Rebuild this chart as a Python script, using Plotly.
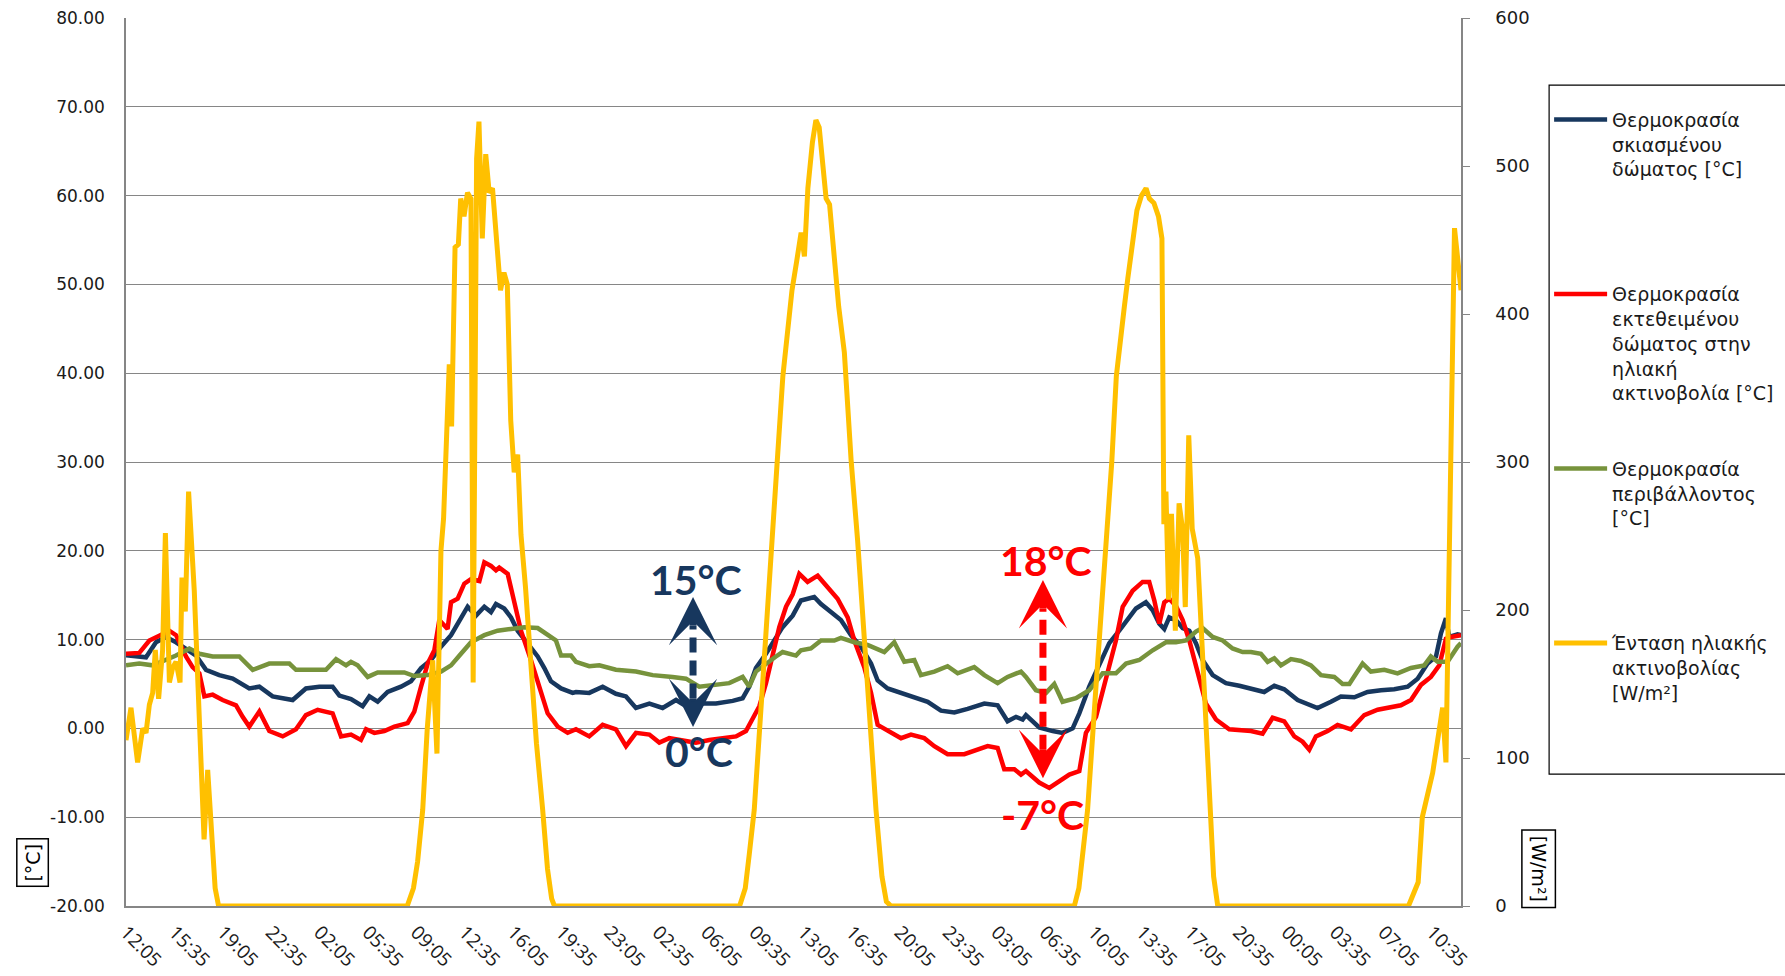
import plotly.graph_objects as go

# ---------------- data (hours since 12:05 of day 1) ----------------
tick_labels = ["12:05", "15:35", "19:05", "22:35", "02:05", "05:35", "09:05", "12:35",
               "16:05", "19:35", "23:05", "02:35", "06:05", "09:35", "13:05", "16:35",
               "20:05", "23:35", "03:05", "06:35", "10:05", "13:35", "17:05", "20:35",
               "00:05", "03:35", "07:05", "10:35"]
tick_hours = [0, 3.5, 7, 10.5, 14, 17.5, 21, 24.5, 28, 31.5, 35, 38.5, 42, 45.5, 49, 52.5,
              56, 59.5, 63, 66.5, 70, 73.5, 77, 80.5, 84, 87.5, 91, 94.5]
temp_ticks = [-20, -10, 0, 10, 20, 30, 40, 50, 60, 70, 80]
temp_tick_labels = ["-20.00", "-10.00", "0.00", "10.00", "20.00", "30.00", "40.00",
                    "50.00", "60.00", "70.00", "80.00"]
solar_ticks = [0, 100, 200, 300, 400, 500, 600]

shaded_h = [0, 0.96, 1.45, 2.17, 2.89, 3.62, 4.34, 5.07, 5.79, 6.75, 7.72, 8.92, 9.65, 10.61,
            11.34, 12.06, 13.02, 13.99, 14.95, 15.44, 16.28, 17.12, 17.61, 18.21, 18.93, 19.90,
            20.62, 21.35, 22.07, 22.79, 23.52, 24.00, 24.72, 25.32, 25.93, 26.41, 26.77, 27.37,
            27.86, 28.34, 29.06, 29.79, 30.27, 30.75, 31.48, 32.32, 32.56, 33.52, 34.49, 35.45,
            36.18, 36.90, 37.87, 38.83, 39.80, 40.52, 41.48, 42.69, 43.90, 44.62, 45.10, 45.58,
            46.31, 47.03, 47.51, 48.24, 48.84, 49.80, 50.29, 51.01, 51.73, 52.46, 53.18, 53.91,
            54.39, 55.11, 56.08, 57.04, 58.01, 58.97, 59.94, 60.90, 62.11, 63.07, 63.79, 64.40,
            64.88, 65.12, 66.08, 67.05, 67.77, 68.50, 68.98, 69.70, 70.43, 71.15, 71.87, 72.36,
            73.08, 73.80, 74.29, 74.77, 75.13, 75.49, 75.97, 76.46, 76.94, 77.42, 77.90, 78.63,
            79.59, 80.56, 81.40, 82.36, 83.09, 83.81, 84.78, 85.50, 86.22, 87.19, 87.91, 88.88,
            89.84, 90.81, 91.77, 92.74, 93.46, 94.18, 94.79, 95.15, 95.51, 95.75, 96.35, 96.60]
shaded_t = [8.25, 8.1, 8.0, 9.7, 10.3, 9.7, 9.0, 8.2, 6.6, 6.0, 5.6, 4.5, 4.7, 3.6,
            3.4, 3.2, 4.5, 4.7, 4.7, 3.7, 3.3, 2.5, 3.6, 3.0, 4.1, 4.7,
            5.3, 6.8, 7.7, 9.2, 10.5, 11.8, 13.7, 12.7, 13.7, 13.1, 14.0, 13.5,
            12.5, 11.0, 9.6, 8.1, 6.8, 5.3, 4.5, 4.0, 4.1, 4.0, 4.7, 3.9,
            3.6, 2.3, 2.8, 2.3, 3.2, 2.5, 2.8, 2.8, 3.1, 3.4, 4.7, 6.8,
            8.4, 10.3, 11.4, 12.7, 14.4, 14.8, 14.0, 13.1, 12.2, 10.5, 9.2, 7.3,
            5.4, 4.5, 4.0, 3.4, 3.0, 2.0, 1.8, 2.2, 2.8, 2.6, 0.8, 1.3,
            1.0, 1.5, 0.1, -0.3, -0.5, 0.0, 1.7, 4.7, 7.3, 9.6, 11.0, 12.0,
            13.5, 14.2, 13.3, 11.8, 11.2, 12.5, 12.2, 11.3, 11.0, 9.6, 7.7, 6.0,
            5.1, 4.8, 4.5, 4.1, 4.8, 4.4, 3.2, 2.8, 2.3, 3.0, 3.6, 3.5,
            4.1, 4.3, 4.4, 4.7, 5.6, 7.3, 8.1, 10.7, 12.4, 10.3, 10.6, 10.5]

exposed_h = [0, 0.96, 1.69, 2.41, 3.14, 3.62, 4.34, 4.82, 5.31, 5.67, 6.27, 6.99, 7.96, 8.44,
             8.92, 9.65, 10.37, 11.34, 12.30, 13.02, 13.87, 14.95, 15.56, 16.28, 17.00, 17.37,
             17.97, 18.69, 19.42, 20.38, 20.86, 21.35, 21.83, 22.31, 22.67, 23.27, 23.52, 24.00,
             24.48, 24.96, 25.57, 25.93, 26.41, 26.77, 27.01, 27.62, 28.10, 28.58, 29.30, 29.91,
             30.51, 31.24, 31.96, 32.56, 33.52, 34.49, 35.45, 36.18, 36.90, 37.87, 38.59, 39.31,
             40.28, 41.24, 42.21, 43.17, 44.14, 44.86, 45.34, 45.83, 46.31, 46.79, 47.27, 47.76,
             48.24, 48.72, 49.32, 50.05, 50.77, 51.49, 52.22, 52.70, 53.42, 53.91, 54.39, 55.35,
             56.08, 56.80, 57.76, 58.49, 59.45, 60.66, 61.62, 62.35, 63.07, 63.55, 64.28, 64.76,
             65.12, 66.08, 66.81, 67.53, 68.26, 68.98, 69.46, 70.19, 70.91, 71.63, 72.12, 72.84,
             73.56, 74.04, 74.41, 74.77, 75.13, 75.49, 75.97, 76.46, 76.94, 77.42, 78.14, 78.87,
             79.83, 81.40, 82.24, 82.97, 83.81, 84.54, 85.14, 85.62, 86.10, 86.95, 87.67, 88.64,
             89.60, 90.57, 91.29, 92.25, 92.98, 93.70, 94.42, 95.03, 95.51, 95.88, 96.60]
exposed_t = [8.4, 8.5, 9.9, 10.5, 11.0, 10.5, 8.1, 6.9, 6.2, 3.6, 3.8, 3.2, 2.6, 1.3,
             0.2, 1.9, -0.3, -0.9, -0.1, 1.5, 2.1, 1.7, -0.9, -0.7, -1.3, -0.1,
             -0.5, -0.3, 0.2, 0.6, 1.9, 4.7, 7.3, 8.8, 12.2, 11.2, 14.2, 14.6,
             16.3, 16.8, 16.6, 18.7, 18.3, 17.8, 18.1, 17.4, 14.4, 11.0, 7.7, 4.7,
             1.7, 0.2, -0.5, -0.1, -0.9, 0.4, -0.1, -2.0, -0.5, -0.7, -1.6, -1.1,
             -1.3, -1.6, -1.3, -1.1, -0.9, -0.3, 1.0, 2.5, 5.1, 8.4, 11.4, 13.7,
             15.1, 17.4, 16.5, 17.2, 15.9, 14.6, 12.5, 9.9, 6.9, 4.0, 0.4, -0.5,
             -1.1, -0.7, -1.1, -2.0, -2.9, -2.9, -2.4, -2.0, -2.2, -4.6, -4.6, -5.2,
             -4.8, -6.1, -6.7, -5.9, -5.2, -4.8, -0.5, 1.3, 5.4, 9.9, 13.7, 15.5,
             16.5, 16.5, 14.4, 11.8, 14.2, 14.6, 13.8, 12.2, 9.9, 6.9, 2.8, 1.0,
             -0.1, -0.3, -0.6, 1.2, 0.8, -0.9, -1.5, -2.4, -0.9, -0.3, 0.4, -0.1,
             1.5, 2.1, 2.3, 2.6, 3.2, 4.9, 5.8, 7.1, 10.1, 10.3, 10.5]

ambient_h = [0, 0.96, 1.93, 2.89, 3.62, 4.58, 5.31, 6.27, 7.24, 8.20, 9.17, 10.37, 11.82, 12.30,
             14.47, 15.20, 15.92, 16.28, 16.76, 17.49, 18.21, 20.14, 20.86, 21.83, 22.79, 23.52,
             24.24, 24.96, 25.93, 26.89, 27.86, 28.82, 29.79, 30.51, 31.11, 31.48, 32.20, 32.56,
             33.52, 34.25, 35.45, 36.90, 38.11, 39.55, 40.52, 41.48, 42.45, 43.65, 44.62, 45.10,
             45.58, 46.31, 47.03, 47.51, 48.48, 48.84, 49.56, 50.29, 51.25, 51.73, 52.70, 53.66,
             54.87, 55.59, 56.32, 57.04, 57.52, 58.49, 59.45, 60.18, 61.38, 62.11, 63.07, 63.79,
             64.76, 65.12, 65.84, 66.57, 67.17, 67.77, 68.74, 69.70, 70.67, 71.63, 72.36, 73.32,
             74.29, 75.25, 75.97, 76.70, 77.42, 77.90, 78.63, 79.35, 80.07, 80.80, 81.40, 82.12,
             82.61, 83.09, 83.57, 84.30, 85.02, 85.74, 86.47, 87.43, 88.03, 88.52, 89.48, 90.08,
             91.05, 92.01, 92.98, 93.94, 94.42, 94.91, 95.63, 96.35, 96.60]
ambient_t = [7.1, 7.3, 7.1, 7.7, 8.2, 9.0, 8.4, 8.1, 8.1, 8.1, 6.6, 7.3, 7.3, 6.6,
             6.6, 7.8, 7.1, 7.5, 7.1, 5.8, 6.3, 6.3, 5.9, 6.0, 6.4, 7.1,
             8.4, 9.7, 10.5, 11.0, 11.2, 11.4, 11.3, 10.5, 9.9, 8.2, 8.2, 7.5,
             7.0, 7.1, 6.6, 6.4, 6.0, 5.8, 5.6, 4.7, 4.9, 5.1, 5.8, 4.7,
             6.4, 7.3, 8.1, 8.6, 8.2, 8.8, 9.0, 9.9, 9.9, 10.2, 9.7, 9.4,
             8.6, 9.7, 7.5, 7.7, 6.0, 6.4, 7.0, 6.2, 6.9, 6.0, 5.1, 5.8,
             6.4, 5.8, 4.3, 4.0, 5.0, 3.0, 3.4, 4.3, 6.2, 6.2, 7.3, 7.7,
             8.8, 9.7, 9.7, 9.9, 10.9, 11.3, 10.3, 9.9, 9.0, 8.6, 8.6, 8.4,
             7.5, 7.9, 7.1, 7.8, 7.6, 7.1, 6.0, 5.8, 5.0, 5.0, 7.3, 6.4,
             6.6, 6.2, 6.8, 7.1, 8.1, 7.5, 7.5, 9.2, 9.6]

solar_h = [0, 0.36, 0.84, 1.21, 1.45, 1.69, 1.93, 2.12, 2.36, 2.65, 2.85, 3.14, 3.38, 3.62,
           3.91, 4.05, 4.29, 4.53, 4.94, 5.19, 5.43, 5.65, 5.91, 6.20, 6.45, 6.70,
           20.35, 20.80, 21.10, 21.47, 21.80, 22.19, 22.50, 22.79, 22.98, 23.39, 23.56, 23.81,
           24.05, 24.22, 24.46, 24.71, 24.96, 25.12, 25.37, 25.54, 25.78, 26.03, 26.28, 26.52,
           26.77, 27.10, 27.35, 27.59, 27.84, 28.09, 28.34, 28.58, 28.91, 29.30, 29.70, 30.15,
           30.50, 30.80, 31.00,
           44.40, 44.81, 45.10, 45.46, 46.10, 46.79, 47.12, 47.53, 47.86, 48.19, 48.52, 48.85,
           49.09, 49.34, 49.67, 49.92, 50.16, 50.41, 50.66, 50.91, 51.24, 51.57, 51.98, 52.22,
           52.47, 52.94, 53.60, 54.27, 54.70, 55.02, 55.35,
           68.62, 68.95, 69.25, 69.58, 70.20, 70.91, 71.33, 71.66, 71.99, 72.24, 72.49, 72.82,
           73.15, 73.48, 73.81, 74.05, 74.38, 74.71, 74.96, 75.10, 75.25, 75.44, 75.65, 75.93,
           76.20, 76.45, 76.65, 76.90, 77.15, 77.55, 78.39, 78.70, 79.00,
           92.80, 93.50, 93.80, 94.55, 95.03, 95.27, 95.51, 96.13, 96.60]
solar_w = [112, 134, 97, 120, 117, 136, 144, 173, 140, 173, 252, 151, 161, 165,
           151, 222, 199, 280, 213, 151, 90, 45, 92, 50, 12, 0,
           0, 12, 30, 65, 120, 166, 103, 240, 262, 366, 324, 445,
           447, 478, 466, 482, 478, 151, 505, 530, 451, 508, 482, 485,
           451, 416, 428, 420, 328, 293, 305, 251, 215, 160, 110, 65,
           25, 5, 0,
           0, 12, 35, 65, 155, 247, 300, 358, 389, 416, 435, 455,
           439, 485, 516, 531, 526, 497, 478, 474, 435, 405, 374, 335,
           301, 247, 150, 65, 20, 3, 0,
           0, 12, 35, 65, 150, 247, 300, 358, 389, 405, 424, 447,
           470, 480, 485, 478, 475, 466, 451, 258, 280, 207, 265, 186,
           272, 255, 202, 318, 255, 235, 65, 20, 0,
           0, 16, 60, 90, 121, 134, 97, 458, 416]

PAD = "<br>&nbsp;<br>&nbsp;"
names = ["Θερμοκρασία<br>σκιασμένου<br>δώματος [°C]" + PAD,
         "Θερμοκρασία<br>εκτεθειμένου<br>δώματος στην<br>ηλιακή<br>ακτινοβολία [°C]",
         "Θερμοκρασία<br>περιβάλλοντος<br>[°C]" + PAD,
         "Ένταση ηλιακής<br>ακτινοβολίας<br>[W/m²]" + PAD]
colors = ["#17375E", "#FF0000", "#77933C", "#FFC000"]
widths = [4.5, 4.5, 4.5, 5]

# annotation values (time in hours, temperature in °C)
shade_arrow_h, shade_lo, shade_hi = 41.03, 0.16, 14.8
exp_arrow_h, exp_lo, exp_hi = 66.35, -5.6, 16.7

NAVY = "#17375E"
RED = "#FF0000"
GRID = "#868686"
TXT = "#1a1a1a"

fig = go.Figure()
series = [(shaded_h, shaded_t, "y"), (exposed_h, exposed_t, "y"), (ambient_h, ambient_t, "y"),
          (solar_h, solar_w, "y2")]
for i, (xs, ys, ax) in enumerate(series):
    fig.add_trace(go.Scatter(x=xs, y=ys, mode="lines", name=names[i], yaxis=ax,
                             line=dict(color=colors[i], width=widths[i]), legendgroup=str(i)))

# dashed shafts with arrowheads
for h, lo, hi, col in [(shade_arrow_h, shade_lo, shade_hi, NAVY), (exp_arrow_h, exp_lo, exp_hi, RED)]:
    fig.add_shape(type="line", xref="x", yref="y", x0=h, x1=h, y0=lo + 3.2, y1=hi - 3.2,
                  line=dict(color=col, width=7, dash="15px,8px"))
    fig.add_annotation(x=h, y=hi, xref="x", yref="y", ax=0, ay=30, text="", showarrow=True,
                       arrowhead=3, arrowwidth=7, arrowsize=1.15, arrowcolor=col)
    fig.add_annotation(x=h, y=lo, xref="x", yref="y", ax=0, ay=-30, text="", showarrow=True,
                       arrowhead=3, arrowwidth=7, arrowsize=1.15, arrowcolor=col)

big = dict(family="Lato", size=41, weight="bold")
for txt, h, t, col in [("15°C", 41.24, 16.8, NAVY), ("0°C", 41.46, -2.6, NAVY),
                       ("18°C", 66.6, 18.96, RED), ("-7°C", 66.3, -9.75, RED)]:
    fig.add_annotation(x=h, y=t, xref="x", yref="y", text=txt, showarrow=False,
                       font=dict(color=col, **big), xanchor="center", yanchor="middle")

# axis titles in boxes
fig.add_annotation(x=-0.070, y=0.049, xref="paper", yref="paper", text="[°C]", showarrow=False,
                   textangle=-90, xanchor="center", yanchor="middle",
                   font=dict(family="DejaVu Sans", size=19, color="#000"),
                   bordercolor="#000", borderwidth=1.5, borderpad=4)
fig.add_annotation(x=1.058, y=0.042, xref="paper", yref="paper", text="[W/m²]", showarrow=False,
                   textangle=90, xanchor="center", yanchor="middle",
                   font=dict(family="DejaVu Sans", size=19, color="#000"),
                   bordercolor="#000", borderwidth=1.5, borderpad=5)

# legend frame (runs past the right edge of the page, as in the original)
fig.add_shape(type="rect", xref="paper", yref="paper", x0=1.066, x1=1.30, y0=0.1486, y1=0.9245,
              line=dict(color="#000", width=1.2), fillcolor="rgba(0,0,0,0)", layer="below")

fig.update_layout(
    width=1785, height=976,
    margin=dict(l=126, r=324, t=18, b=70, autoexpand=False),
    paper_bgcolor="white", plot_bgcolor="white",
    xaxis=dict(range=[0, 96.6], tickvals=tick_hours, ticktext=tick_labels, tickangle=45,
               showgrid=False, zeroline=False, showline=True, linecolor=GRID, linewidth=1.5,
               tickfont=dict(family="Open Sans", size=19, color=TXT), ticks="",
               ticklabelstandoff=6, automargin=False),
    yaxis=dict(range=[-20, 80], tickvals=temp_ticks, ticktext=temp_tick_labels, showgrid=True,
               gridcolor=GRID, gridwidth=1, zeroline=False, showline=True, linecolor=GRID,
               linewidth=1.5, tickfont=dict(family="DejaVu Sans", size=17, color=TXT), ticks="",
               ticklabelstandoff=16, automargin=False),
    yaxis2=dict(range=[0, 600], tickvals=solar_ticks, overlaying="y", side="right",
                showgrid=False, zeroline=False, showline=True, linecolor=GRID, linewidth=1.5,
                ticks="outside", ticklen=7, tickcolor=GRID,
                tickfont=dict(family="DejaVu Sans", size=18, color=TXT),
                ticklabelstandoff=22, automargin=False),
    showlegend=True,
    legend=dict(x=1.066, y=0.9245, xanchor="left", yanchor="top", borderwidth=0,
                font=dict(family="DejaVu Sans", size=19, color=TXT),
                valign="top", tracegroupgap=48, traceorder="grouped", bgcolor="rgba(0,0,0,0)",
                itemwidth=53, title=dict(text="&nbsp;", font=dict(size=12))),
)

fig.write_html("out.html")
